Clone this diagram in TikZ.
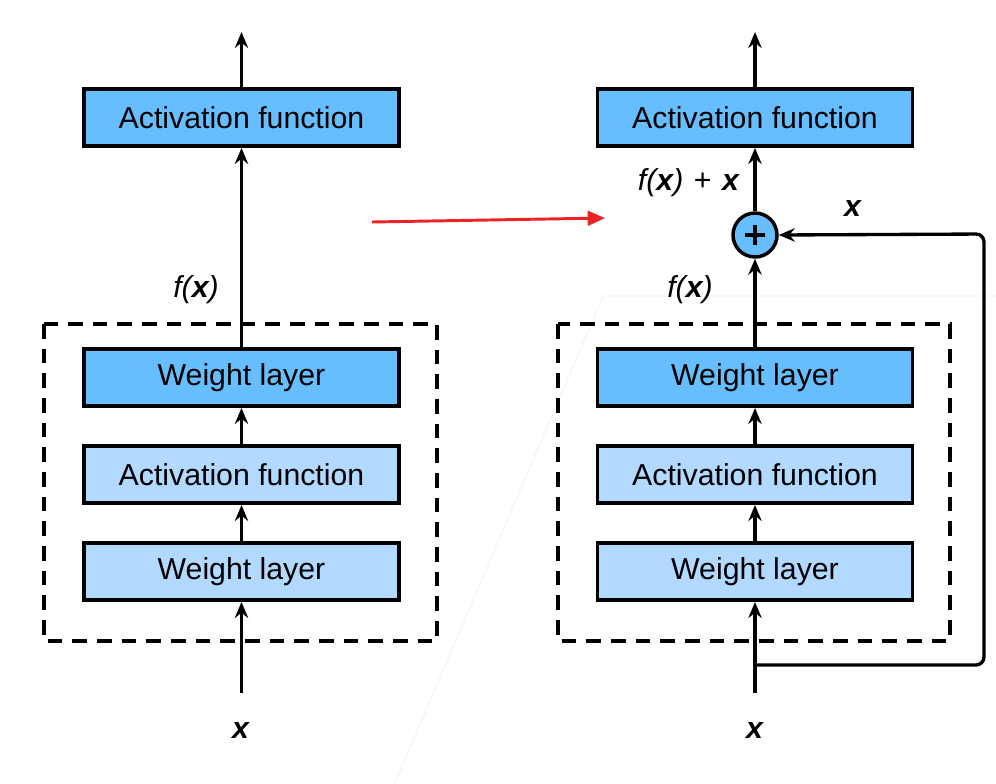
\documentclass[tikz,border=0pt]{standalone}
\usepackage{fontspec}
\setmainfont{Liberation Sans}
\usetikzlibrary{arrows.meta}
\definecolor{dblue}{RGB}{102,190,255}
\definecolor{lblue}{RGB}{178,217,255}
\definecolor{redarr}{RGB}{236,34,39}
\begin{document}
\begin{tikzpicture}[x=0.75pt,y=-0.75pt,
  box/.style={draw=black, line width=2.7pt, minimum width=236.5pt, minimum height=43pt, inner sep=0pt, font=\fontsize{22.7}{26}\selectfont},
  dbox/.style={box, fill=dblue},
  lbox/.style={box, fill=lblue},
  arr/.style={draw=black, line width=2.5pt, -{Stealth[length=12pt,width=10pt,inset=4pt]}},
  dashbox/.style={draw=black, line width=2.6pt, dash pattern=on 11pt off 7.5pt},
  lbl/.style={font=\fontsize{22.7}{26}\selectfont, inner sep=0pt},
  plusnode/.style={circle, draw=black, line width=2.6pt, fill=dblue, minimum size=33pt, inner sep=0pt},
  plusbar/.style={draw=black, line width=2.6pt}
]
\useasboundingbox (0,0) rectangle (996,783);
% faint artifact lines
\draw[black!8, line width=0.4pt] (395,783) -- (603,296) -- (996,296);

% ---------- left column ----------
\node[dbox] (top1) at (241.5,117.5) {Activation function};
\node[dbox] (wa1) at (241.5,377.5) {Weight layer};
\node[lbox] (ac1) at (241.5,474.5) {Activation function};
\node[lbox] (wb1) at (241.5,571.5) {Weight layer};
\coordinate (out1) at (241.5,32);
\coordinate (in1) at (241.5,693);
\draw[dashbox] (44,324) rectangle (437,641);
\draw[arr] (top1.north) -- (out1);
\draw[arr] (wa1.north) -- (top1.south);
\draw[arr] (ac1.north) -- (wa1.south);
\draw[arr] (wb1.north) -- (ac1.south);
\draw[arr] (in1) -- (wb1.south);
\node[lbl] (fx1) at (196,290) {\textit{f(\textbf{x})}};
\node[lbl] (x1) at (241,730) {\textbf{\textit{x}}};

% ---------- red arrow ----------
\coordinate (ra) at (372,222);
\coordinate (rb) at (605,218);
\draw[redarr, line width=2.2pt, -{Triangle[length=13pt,width=11pt]}] (ra) -- (rb);

% ---------- right column ----------
\node[dbox] (top2) at (755,117.5) {Activation function};
\node[plusnode] (plus) at (755,235) {};
\draw[plusbar] (plus.center) ++(-10,0) -- ++(20,0);
\draw[plusbar] (plus.center) ++(0,-10) -- ++(0,20);
\node[dbox] (wa2) at (755,377.5) {Weight layer};
\node[lbox] (ac2) at (755,474.5) {Activation function};
\node[lbox] (wb2) at (755,571.5) {Weight layer};
\coordinate (out2) at (755,32);
\coordinate (in2) at (755,693);
\coordinate (sk) at (755,665);
\draw[dashbox] (558,324) rectangle (950,641);
\draw[arr] (top2.north) -- (out2);
\draw[arr] (plus.north) -- (top2.south);
\draw[arr] (wa2.north) -- (plus.south);
\draw[arr] (ac2.north) -- (wa2.south);
\draw[arr] (wb2.north) -- (ac2.south);
\draw[arr] (in2) -- (wb2.south);
\draw[arr, rounded corners=6pt] (sk) -- (984,665) -- (984,234) -- (plus.east);
\node[lbl] (fx2) at (690,290) {\textit{f(\textbf{x})}};
\node[lbl] (fxx) at (689,183) {\textit{f(\textbf{x})}\hspace{0.35em}+\hspace{0.35em}\textbf{\textit{x}}};
\node[lbl] (xs) at (853,208) {\textbf{\textit{x}}};
\node[lbl] (x2) at (755,730) {\textbf{\textit{x}}};
\end{tikzpicture}
\end{document}
